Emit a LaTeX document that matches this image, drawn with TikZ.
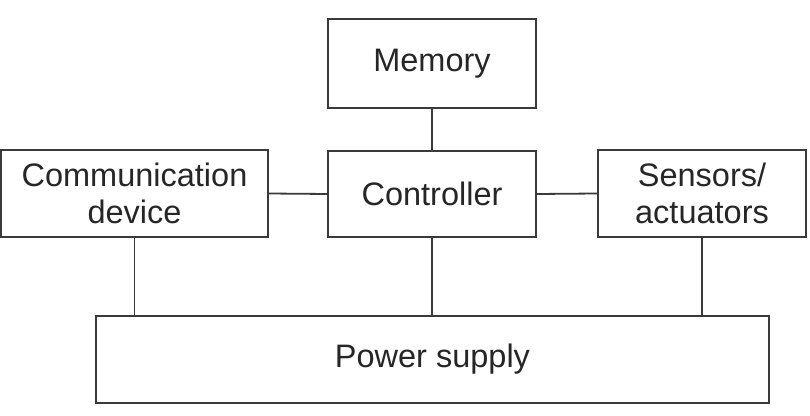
\documentclass[tikz,border=0pt]{standalone}
\usepackage{fontspec}
\setmainfont{Liberation Sans}
\definecolor{linegray}{HTML}{3A3A3A}
\definecolor{textgray}{HTML}{262626}
\begin{document}
\begin{tikzpicture}[x=1pt,y=1pt,
  blk/.style={draw=linegray, line width=1.8pt, inner sep=0pt, align=center,
    text=textgray, font=\fontsize{32.5}{37}\selectfont},
  link/.style={draw=linegray, line width=1.8pt}]
\useasboundingbox (0,0) rectangle (810,415);
\node[blk, minimum width=208pt, minimum height=89pt] (mem) at (432,351.5) {Memory};
\node[blk, minimum width=208pt, minimum height=86pt] (ctrl) at (432,221) {Controller};
\node[blk, minimum width=267pt, minimum height=87pt] (comm) at (134.5,221.5) {Communication\\device};
\node[blk, minimum width=208pt, minimum height=87pt] (sens) at (702,221.5) {Sensors/\\actuators};
\node[blk, minimum width=673pt, minimum height=87pt] (pow) at (432.5,55.5) {Power supply};
\draw[link] (mem.south) -- (ctrl.north);
\draw[link] (comm.east) -- (ctrl.west);
\draw[link] (ctrl.east) -- (sens.west);
\draw[link] (comm.south) -- (comm.south |- pow.north);
\draw[link] (ctrl.south) -- (pow.north -| ctrl.south);
\draw[link] (sens.south) -- (sens.south |- pow.north);
\end{tikzpicture}
\end{document}
